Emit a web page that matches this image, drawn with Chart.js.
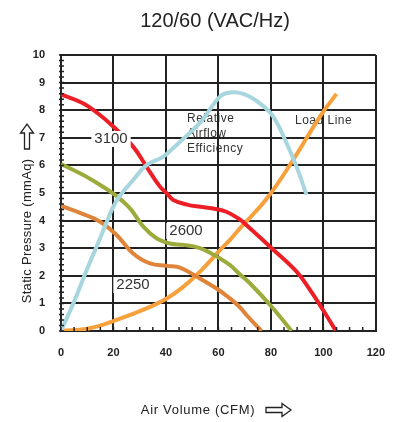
<!DOCTYPE html>
<html>
<head>
<meta charset="utf-8">
<script src="https://cdn.jsdelivr.net/npm/chart.js@4.4.1/dist/chart.umd.min.js"></script>
<style>
  html, body { margin: 0; padding: 0; background: #fff; }
  #wrap { width: 400px; height: 422px; }
</style>
</head>
<body>
<div id="wrap"><canvas id="fan"></canvas></div>
<script>
const airflow3100 = [0, 8, 14, 20, 27.5, 32.6, 37.7, 40.3, 42.8, 48, 53, 58, 63, 68, 72, 80.3, 89.8, 94.9, 99.9, 104.8];
const pressure3100 = [8.57, 8.27, 7.89, 7.4, 6.68, 5.95, 5.23, 4.99, 4.75, 4.58, 4.5, 4.44, 4.32, 4.05, 3.72, 3.0, 2.15, 1.49, 0.76, 0];

const airflow2600 = [0, 8.5, 14.9, 20.6, 26.3, 31.4, 36.4, 41.5, 46.6, 53, 60.6, 64.4, 68.2, 72, 80.3, 87.9];
const pressure2600 = [6.05, 5.65, 5.29, 4.93, 4.44, 3.78, 3.36, 3.17, 3.12, 3.0, 2.63, 2.39, 2.05, 1.73, 0.88, 0];

const airflow2250 = [0, 7.2, 14.9, 21.2, 27.5, 33.9, 40.3, 45.3, 51.7, 59.3, 64.4, 68.2, 70.7, 76.4];
const pressure2250 = [4.53, 4.28, 3.96, 3.48, 2.81, 2.45, 2.36, 2.3, 1.97, 1.54, 1.18, 0.86, 0.58, 0];

const airflowLoad = [0, 11, 21.2, 32.6, 40.3, 46.6, 53, 60.6, 64.4, 68.2, 78.3, 88.5, 98.7, 105];
const pressureLoad = [0, 0.1, 0.4, 0.82, 1.18, 1.6, 2.15, 2.93, 3.3, 3.72, 4.78, 6.2, 7.77, 8.59];

const airflowEff = [0, 4.7, 9.8, 14.9, 19.9, 22.5, 27.5, 32.6, 39, 45.3, 53, 60.6, 64.4, 69.5, 75.8, 80.9, 86, 89.8, 93.6];
const pressureEff = [0, 1.0, 2.21, 3.36, 4.5, 4.9, 5.47, 6.01, 6.32, 6.85, 7.55, 8.49, 8.64, 8.59, 8.25, 7.77, 6.8, 5.95, 4.93];

const xTicks = [0, 20, 40, 60, 80, 100, 120];
const yTicks = [0, 1, 2, 3, 4, 5, 6, 7, 8, 9, 10];

function pairs(xs, ys) {
  return xs.map((x, i) => ({ x: x, y: ys[i] }));
}

function curve(data, color) {
  return {
    data: data,
    borderColor: color,
    borderWidth: 4,
    pointRadius: 0,
    tension: 0.4,
    fill: false,
  };
}

const FONT = "'Liberation Sans', Arial, sans-serif";

// hollow arrow pointing right, drawn around the local origin (tail at 0)
function hollowArrow(ctx, len) {
  const shaft = 2.5, head = 6.5, headLen = 9;
  ctx.beginPath();
  ctx.moveTo(0, -shaft);
  ctx.lineTo(len - headLen, -shaft);
  ctx.lineTo(len - headLen, -head);
  ctx.lineTo(len, 0);
  ctx.lineTo(len - headLen, head);
  ctx.lineTo(len - headLen, shaft);
  ctx.lineTo(0, shaft);
  ctx.closePath();
  ctx.stroke();
}

// labels that sit under the grid (drawn first)
const underText = {
  id: "underText",
  beforeDraw(chart) {
    const ctx = chart.ctx;
    ctx.save();
    ctx.fillStyle = "#333";
    ctx.font = "12px " + FONT;
    ctx.letterSpacing = "0.5px";
    ctx.textBaseline = "middle";
    ctx.textAlign = "left";
    ctx.fillText("Relative", 187, 119);
    ctx.fillText("Airflow", 187, 134);
    ctx.fillText("Efficiency", 187, 149);
    ctx.fillText("Load Line", 295, 121);
    ctx.restore();
  },
};

const decorations = {
  id: "decorations",
  afterDraw(chart) {
    const ctx = chart.ctx;
    const a = chart.chartArea;
    const xs = chart.scales.x;
    const ys = chart.scales.y;
    ctx.save();

    // minor ticks
    ctx.strokeStyle = "#222";
    ctx.lineWidth = 1.5;
    ctx.beginPath();
    for (let v = 0; v <= 10.001; v += 0.2) {
      const py = ys.getPixelForValue(v);
      ctx.moveTo(a.left - 2, py);
      ctx.lineTo(a.left + 3, py);
    }
    for (let v = 0; v <= 120; v += 5) {
      const px = xs.getPixelForValue(v);
      ctx.moveTo(px, a.bottom + 1);
      ctx.lineTo(px, a.bottom - 4);
    }
    ctx.stroke();

    // curve labels with white boxes
    ctx.font = "15px " + FONT;
    ctx.textAlign = "center";
    ctx.textBaseline = "middle";
    [["3100", 111, 139], ["2600", 186, 231], ["2250", 133, 285]].forEach(([t, x, y]) => {
      const w = ctx.measureText(t).width + 6;
      ctx.fillStyle = "#fff";
      ctx.fillRect(x - w / 2, y - 8, w, 16);
      ctx.fillStyle = "#333";
      ctx.fillText(t, x, y);
    });

    // titles
    ctx.fillStyle = "#222";
    ctx.font = "20px " + FONT;
    ctx.fillText("120/60 (VAC/Hz)", 215, 21);

    ctx.font = "13px " + FONT;
    ctx.letterSpacing = "0.7px";
    ctx.fillText("Air Volume (CFM)", 198, 410);
    ctx.strokeStyle = "#222";
    ctx.lineWidth = 1.3;
    ctx.save();
    ctx.translate(266, 410);
    hollowArrow(ctx, 25);
    ctx.restore();

    ctx.save();
    ctx.translate(27, 231);
    ctx.rotate(-Math.PI / 2);
    ctx.letterSpacing = "0.3px";
    ctx.fillText("Static Pressure (mmAq)", 0, 0);
    ctx.translate(82, 0);
    hollowArrow(ctx, 25);
    ctx.restore();

    ctx.restore();
  },
};

const ctxFan = document.getElementById("fan").getContext("2d");
new Chart(ctxFan, {
  type: "line",
  data: {
    datasets: [
      curve(pairs(airflowEff, pressureEff), "#a8d6de"),
      curve(pairs(airflow3100, pressure3100), "#ec1f26"),
      curve(pairs(airflow2600, pressure2600), "#9cab3c"),
      curve(pairs(airflow2250, pressure2250), "#e0843a"),
      curve(pairs(airflowLoad, pressureLoad), "#f7a03c"),
    ],
  },
  plugins: [underText, decorations],
  options: {
    responsive: true,
    maintainAspectRatio: false,
    animation: false,
    layout: { padding: { left: 0, right: 24, top: 55, bottom: 61 } },
    plugins: {
      legend: { display: false },
      tooltip: { enabled: false },
    },
    scales: {
      x: {
        type: "linear",
        min: 0,
        max: 120,
        afterBuildTicks: (s) => { s.ticks = xTicks.map((v) => ({ value: v })); },
        afterFit: (s) => { s.height = 30; },
        grid: { color: "#222", lineWidth: 2, drawTicks: false },
        border: { color: "#222", width: 2 },
        ticks: {
          padding: 15,
          color: "#222",
          font: { family: FONT, size: 11, weight: "bold" },
        },
      },
      y: {
        min: 0,
        max: 10,
        afterBuildTicks: (s) => { s.ticks = yTicks.map((v) => ({ value: v })); },
        afterFit: (s) => { s.width = 61; },
        grid: { color: "#222", lineWidth: 2, drawTicks: false },
        border: { color: "#222", width: 2 },
        ticks: {
          padding: 16,
          color: "#222",
          font: { family: FONT, size: 11, weight: "bold" },
        },
      },
    },
  },
});
</script>
</body>
</html>
